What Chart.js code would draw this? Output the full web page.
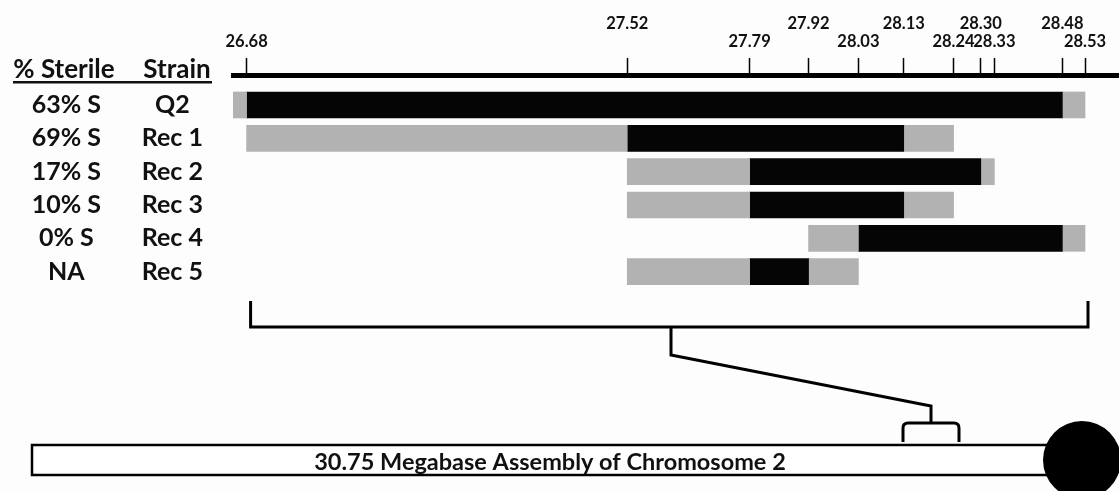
<!DOCTYPE html>
<html>
<head>
<meta charset="utf-8">
<script src="https://cdn.jsdelivr.net/npm/chart.js@4"></script>
<style>
  html, body { margin: 0; padding: 0; background: #fdfdfe; }
  #wrap { width: 1119px; height: 491px; }
</style>
</head>
<body>
<div id="wrap"><canvas id="mapChart"></canvas></div>
<script>
// marker positions (Mb) along the top axis
const markers = [26.68, 27.52, 27.79, 27.92, 28.03, 28.13, 28.24, 28.30, 28.33, 28.48, 28.53];
const markerLabels = ['26.68', '27.52', '27.79', '27.92', '28.03', '28.13', '28.24', '28.30', '28.33', '28.48', '28.53'];

const strains = ['Q2', 'Rec 1', 'Rec 2', 'Rec 3', 'Rec 4', 'Rec 5'];
const sterile = ['63% S', '69% S', '17% S', '10% S', '0% S', 'NA'];

// gray = flanking interval, black = introgressed region
const leftFlank = [[26.65, 26.68], [26.68, 27.52], [27.52, 27.79], [27.52, 27.79], [27.92, 28.03], [27.52, 27.79]];
const core = [[26.68, 28.48], [27.52, 28.13], [27.79, 28.30], [27.79, 28.13], [28.03, 28.48], [27.79, 27.92]];
const rightFlank = [[28.48, 28.53], [28.13, 28.24], [28.30, 28.33], [28.13, 28.24], [28.48, 28.53], [27.92, 28.03]];

const chromosomeLabel = '30.75 Megabase Assembly of Chromosome 2';

const FONT = 'Lato, "Open Sans", sans-serif';
const GRAY = '#b2b2b2';
const BLACK = '#050505';

function toPoints(ranges) {
    return ranges.map((r, i) => ({ x: r, y: i }));
}

function rowAxis(labels, width, weight, pad) {
    return {
        type: 'linear',
        position: 'left',
        reverse: true,
        offset: false,
        min: -0.87,
        max: 5.85,
        weight: weight,
        afterBuildTicks: s => { s.ticks = labels.map((_, i) => ({ value: i })); },
        afterFit: s => { s.width = width; },
        ticks: {
            crossAlign: 'center',
            padding: pad,
            color: '#111',
            font: { family: FONT, size: 25, weight: 'bold' },
            callback: v => labels[v]
        },
        grid: { display: false, offset: false },
        border: { display: false }
    };
}

const background = {
    id: 'background',
    beforeDraw(chart) {
        const c = chart.ctx;
        c.save();
        c.fillStyle = '#fdfdfe';
        c.fillRect(0, 0, chart.width, chart.height);
        c.restore();
    }
};

// column headers, bracket and chromosome sketch
const extras = {
    id: 'extras',
    afterDraw(chart) {
        const c = chart.ctx;
        const x = chart.scales.x;
        c.save();
        c.fillStyle = '#111';
        c.font = 'bold 26px ' + FONT;
        c.textAlign = 'center';
        c.textBaseline = 'alphabetic';
        c.fillText('% Sterile', 64, 78);
        c.fillText('Strain', 177, 78);
        c.fillRect(13, 81, 199, 2.5);

        c.strokeStyle = '#000';
        c.lineWidth = 3;
        c.lineJoin = 'miter';
        const x0 = x.getPixelForValue(markers[0]) + 4;
        const x1 = x.getPixelForValue(markers[markers.length - 1]) + 3;
        c.beginPath();
        c.moveTo(x0, 301);
        c.lineTo(x0, 327);
        c.lineTo(x1, 327);
        c.lineTo(x1, 301);
        c.stroke();

        c.beginPath();
        c.moveTo(671, 327);
        c.lineTo(671, 355);
        c.lineTo(931, 406);
        c.lineTo(931, 423);
        c.stroke();

        c.beginPath();
        c.moveTo(903, 442);
        c.lineTo(903, 428);
        c.quadraticCurveTo(903, 423, 908, 423);
        c.lineTo(954, 423);
        c.quadraticCurveTo(959, 423, 959, 428);
        c.lineTo(959, 442);
        c.stroke();

        c.fillStyle = '#fff';
        c.lineWidth = 2.5;
        c.fillRect(32, 445, 1040, 30);
        c.strokeRect(32, 445, 1040, 30);

        c.fillStyle = '#000';
        c.beginPath();
        c.arc(1082, 460, 39, 0, Math.PI * 2);
        c.fill();

        c.fillStyle = '#111';
        c.font = 'bold 23.5px ' + FONT;
        c.fillText(chromosomeLabel, 550, 470);
        c.restore();
    }
};

const ctx = document.getElementById('mapChart').getContext('2d');
new Chart(ctx, {
    type: 'bar',
    data: {
        datasets: [
            { label: 'left flank', data: toPoints(leftFlank), backgroundColor: GRAY },
            { label: 'region', data: toPoints(core), backgroundColor: BLACK },
            { label: 'right flank', data: toPoints(rightFlank), backgroundColor: GRAY }
        ]
    },
    options: {
        indexAxis: 'y',
        responsive: true,
        maintainAspectRatio: false,
        animation: false,
        datasets: { bar: { grouped: false, barThickness: 26, borderWidth: 0, borderSkipped: false } },
        layout: { padding: { top: 7, right: 0, bottom: 191, left: 0 } },
        plugins: { legend: { display: false }, tooltip: { enabled: false } },
        scales: {
            x: {
                type: 'linear',
                position: 'top',
                min: 26.65,
                max: 28.605,
                afterBuildTicks: s => { s.ticks = markers.map(v => ({ value: v })); },
                ticks: {
                    autoSkip: false,
                    maxRotation: 0,
                    padding: 7,
                    color: '#111',
                    font: { family: FONT, size: 16.5, weight: 'bold', lineHeight: 1.12 },
                    callback: (v, i) => i % 2 ? [markerLabels[i], ''] : markerLabels[i]
                },
                grid: { drawOnChartArea: false, drawTicks: true, tickLength: 18, tickColor: '#000', tickWidth: 1.5 },
                border: { color: '#000', width: 5 }
            },
            y: rowAxis(strains, 103, 0, 22),
            y2: rowAxis(sterile, 130, 1, 21)
        }
    },
    plugins: [background, extras]
});
</script>
</body>
</html>
